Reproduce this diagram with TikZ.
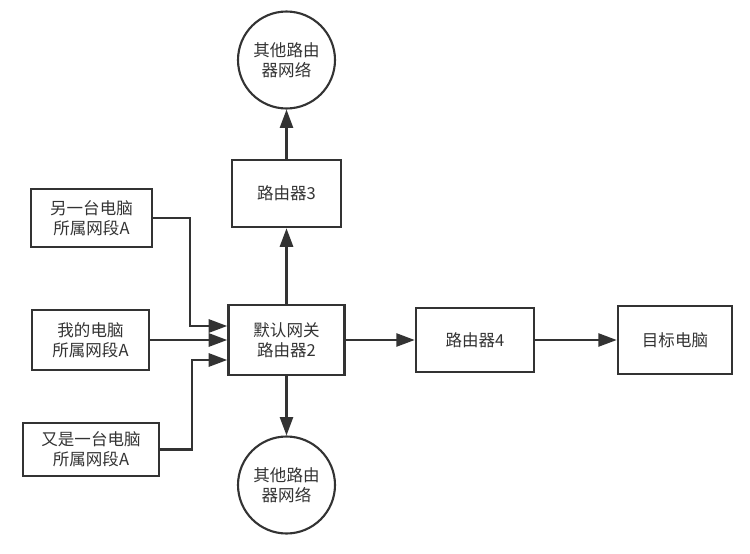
\documentclass[tikz,border=0pt]{standalone}
\usepackage{fontspec}
\newfontfamily\cjk{Noto Sans CJK SC}
\usepackage{tikz}
\usetikzlibrary{arrows.meta, calc}
\usepackage{xcolor}
\definecolor{ink}{HTML}{333333}

\begin{document}
\begin{tikzpicture}[x=0.02cm, y=-0.02cm,
  box/.style={rectangle, draw=ink, line width=1.5pt, text=ink, inner sep=0pt,
  font=\cjk\fontsize{9.4pt}{11.5pt}\selectfont, align=center},
  net/.style={circle, draw=ink, line width=1.2pt, minimum size=1.94cm, inner sep=0pt,
  text=ink, font=\cjk\fontsize{9.4pt}{11.5pt}\selectfont, align=center},
  arr/.style={draw=ink, line width=1.2pt, -{Triangle[length=10.5pt, width=7.5pt]}}]
  \useasboundingbox (0,0) rectangle (750,554);
  \node[net] (up) at (286.5,60) {其他路由\\器网络};
  \node[box, minimum width=2.18cm, minimum height=1.34cm] (r3) at (286.5,193.5) {路由器3};
  \node[box, minimum width=2.42cm, minimum height=1.16cm] (pca) at (91.5,218) {另一台电脑\\所属网段A};
  \node[box, minimum width=2.34cm, minimum height=1.2cm] (pcme) at (90.5,340) {我的电脑\\所属网段A};
  \node[box, minimum width=2.72cm, minimum height=1.06cm] (pcb) at (91,449.5) {又是一台电脑\\所属网段A};
  \node[box, minimum width=2.32cm, minimum height=1.4cm] (gw) at (286.5,340) {默认网关\\路由器2};
  \node[box, minimum width=2.36cm, minimum height=1.28cm] (r4) at (475,340) {路由器4};
  \node[box, minimum width=2.28cm, minimum height=1.36cm] (dst) at (675,340) {目标电脑};
  \node[net] (down) at (286.5,485) {其他路由\\器网络};

  \draw[arr] (r3) -- (up);
  \draw[arr] (gw) -- (r3);
  \draw[arr] (gw) -- (down);
  \draw[arr] (gw) -- (r4);
  \draw[arr] (r4) -- (dst);
  \draw[arr] (pcme) -- (gw);
  \draw[arr] (pca.east) -| ($(gw.west)+(-37,-14)$) -- ($(gw.west)+(0,-14)$);
  \draw[arr] (pcb.east) -| ($(gw.west)+(-35,20)$) -- ($(gw.west)+(0,20)$);
\end{tikzpicture}
\end{document}
